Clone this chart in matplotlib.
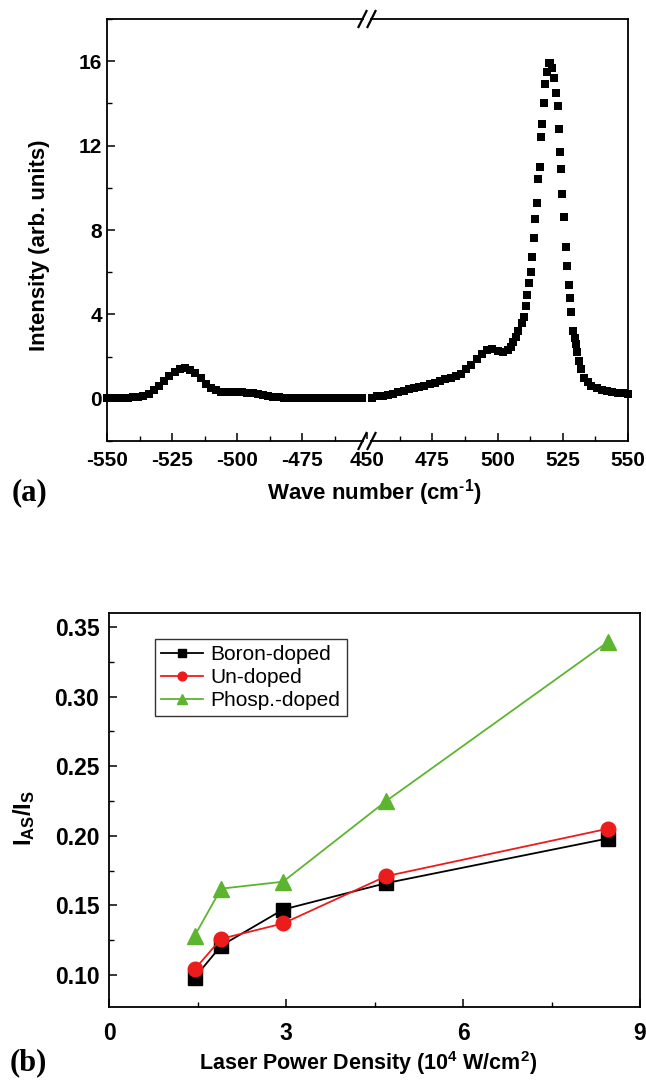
import matplotlib
matplotlib.use('Agg')
import matplotlib.pyplot as plt
from matplotlib.lines import Line2D
from matplotlib.patches import Rectangle
from matplotlib.ticker import FixedLocator, MultipleLocator, FormatStrFormatter

plt.rcParams['font.family'] = ['Liberation Sans', 'DejaVu Sans']
plt.rcParams['font.weight'] = 'bold'
plt.rcParams['axes.unicode_minus'] = False
plt.rcParams['mathtext.fontset'] = 'custom'
plt.rcParams['mathtext.rm'] = 'Liberation Sans:bold'
plt.rcParams['mathtext.bf'] = 'Liberation Sans:bold'
plt.rcParams['mathtext.it'] = 'Liberation Sans:italic'

# ---------------- data: panel (a) ----------------
anti_stokes_x = [-550, -548, -546, -544, -542, -540, -538, -536, -534, -532,
                 -530, -528, -526, -524, -522, -520, -518, -516, -514, -512,
                 -510, -508, -506, -504, -502, -500, -498, -496, -494, -492,
                 -490, -488, -486, -484, -482, -480, -478, -476, -474, -472,
                 -470, -468, -466, -464, -462, -460, -458, -456, -454, -452]
anti_stokes_y = [0.02, 0.02, 0.03, 0.03, 0.05, 0.07, 0.10, 0.15, 0.25, 0.40,
                 0.62, 0.85, 1.08, 1.28, 1.40, 1.45, 1.38, 1.22, 0.98, 0.72,
                 0.52, 0.40, 0.34, 0.31, 0.30, 0.30, 0.30, 0.29, 0.27, 0.24,
                 0.18, 0.13, 0.10, 0.08, 0.06, 0.05, 0.05, 0.04, 0.04, 0.04,
                 0.04, 0.04, 0.04, 0.04, 0.04, 0.04, 0.04, 0.04, 0.04, 0.04]

stokes_x = [452, 454, 456, 458, 460, 462, 464, 466, 468, 470,
            472, 474, 476, 478, 480, 482, 484, 486, 488, 490,
            492, 494, 496, 498, 500, 502, 504, 505, 506, 507,
            508, 509.5, 510.1, 510.8, 511.4, 512.1, 512.7, 513.4, 514.0, 514.4,
            515.3, 515.7, 516.3, 516.8, 517.2, 517.8, 518.3, 519.0, 519.6, 520.2,
            520.8, 521.7, 522.3, 523.0, 523.6, 524.0, 524.5, 524.9, 525.5, 526.4,
            526.8, 527.4, 527.8, 528.3, 529.1, 529.6, 530.0, 530.6, 531.3, 532.0,
            533.2, 534.5, 536, 538, 540, 542, 544, 546, 548, 550]
stokes_y = [0.05, 0.12, 0.15, 0.20, 0.25, 0.30, 0.38, 0.45, 0.50, 0.57,
            0.62, 0.70, 0.76, 0.84, 0.92, 1.00, 1.10, 1.18, 1.40, 1.62,
            1.88, 2.10, 2.30, 2.35, 2.25, 2.22, 2.30, 2.45, 2.70, 2.95,
            3.20, 3.60, 3.90, 4.40, 4.90, 5.50, 6.00, 6.70, 7.60, 8.50,
            9.30, 10.4, 11.0, 12.4, 13.0, 14.0, 14.9, 15.5, 15.9, 15.9,
            15.7, 15.2, 14.5, 13.9, 12.8, 11.7, 10.9, 9.7, 8.6, 7.2,
            6.3, 5.4, 4.8, 4.1, 3.2, 2.9, 2.6, 2.2, 1.8, 1.4,
            1.0, 0.8, 0.62, 0.52, 0.42, 0.35, 0.30, 0.28, 0.26, 0.25]

# ---------------- data: panel (b) ----------------
power_density = [1.45, 1.9, 2.95, 4.7, 8.45]
boron_doped = [0.098, 0.121, 0.147, 0.166, 0.198]
un_doped = [0.104, 0.126, 0.137, 0.171, 0.205]
phosp_doped = [0.128, 0.162, 0.167, 0.225, 0.339]
series_labels = ['Boron-doped', 'Un-doped', 'Phosp.-doped']

W, H = 646, 1083
fig = plt.figure(figsize=(W / 100, H / 100), dpi=100)


def fr(x0, y0, x1, y1):
    return [x0 / W, 1 - y1 / H, (x1 - x0) / W, (y1 - y0) / H]


BX = 367
axL = fig.add_axes(fr(107, 19, BX, 441))
axR = fig.add_axes(fr(BX, 19, 628, 441))

for ax in (axL, axR):
    for s in ax.spines.values():
        s.set_linewidth(1.3)
    ax.set_ylim(-2, 18)
    ax.tick_params(direction='in', which='major', length=6, width=1.1,
                   labelsize=15, top=False, right=False)
    ax.tick_params(direction='in', which='minor', length=3.5, width=1.0,
                   top=False, right=False)
    ax.tick_params(axis='x', pad=7)

axL.plot(anti_stokes_x, anti_stokes_y, 's', color='black', markersize=6.3,
         markeredgewidth=0, clip_on=False)
axR.plot(stokes_x, stokes_y, 's', color='black', markersize=6.3,
         markeredgewidth=0, clip_on=False)

axL.set_xlim(-550, -450)
axR.set_xlim(450, 550)
axL.xaxis.set_major_locator(FixedLocator([-550, -525, -500, -475]))
axL.xaxis.set_minor_locator(FixedLocator([-537.5, -512.5, -487.5, -462.5]))
axR.xaxis.set_major_locator(FixedLocator([450, 475, 500, 525, 550]))
axR.xaxis.set_minor_locator(FixedLocator([462.5, 487.5, 512.5, 537.5]))
axL.yaxis.set_major_locator(MultipleLocator(4))
axL.yaxis.set_minor_locator(MultipleLocator(2))
axL.spines['right'].set_visible(False)
axR.spines['left'].set_visible(False)
axR.tick_params(axis='y', which='both', left=False, labelleft=False)
axL.set_ylabel('Intensity (arb. units)', fontsize=16, fontweight='bold')
axL.yaxis.set_label_coords(-0.22, 0.464)

# axis break marks
for yb in (19, 441):
    fig.add_artist(Rectangle(((BX - 3) / W, 1 - (yb + 2) / H), 6 / W, 4 / H,
                             transform=fig.transFigure, facecolor='white',
                             edgecolor='none', zorder=10))
    for dx in (-4.5, 4.5):
        xc = BX + dx
        fig.add_artist(Line2D([(xc - 4) / W, (xc + 4) / W],
                              [1 - (yb + 8) / H, 1 - (yb - 8) / H],
                              transform=fig.transFigure, color='black',
                              linewidth=1.6, zorder=11))

fig.text(374 / W, 1 - 493 / H, r'Wave number (cm$^{\text{-}1}$)',
         ha='center', va='center', fontsize=16, fontweight='bold')
fig.text(12 / W, 1 - 493 / H, '(a)', ha='left', va='center', fontsize=22,
         fontweight='bold', family='Liberation Serif')

# ---------------- panel (b) ----------------
axB = fig.add_axes(fr(109, 613, 640, 1007))
for s in axB.spines.values():
    s.set_linewidth(1.3)
axB.plot(power_density, boron_doped, '-s', color='black', markersize=10,
         linewidth=1.3, label=series_labels[0])
axB.plot(power_density, un_doped, '-o', color='#ec1c1c', markersize=10.5,
         linewidth=1.3, label=series_labels[1])
axB.plot(power_density, phosp_doped, '-^', color='#5db52f', markersize=12,
         linewidth=1.3, label=series_labels[2])
axB.set_xlim(0, 9)
axB.set_ylim(0.077, 0.36)
axB.xaxis.set_major_locator(MultipleLocator(3))
axB.xaxis.set_minor_locator(MultipleLocator(1.5))
axB.yaxis.set_major_locator(MultipleLocator(0.05))
axB.yaxis.set_minor_locator(MultipleLocator(0.025))
axB.yaxis.set_major_formatter(FormatStrFormatter('%.2f'))
axB.tick_params(direction='in', which='major', length=6, width=1.1,
                labelsize=16.5, top=False, right=False)
axB.tick_params(direction='in', which='minor', length=3.5, width=1.0,
                top=False, right=False)
axB.tick_params(axis='x', pad=11)
axB.tick_params(axis='y', pad=7)
axB.set_ylabel(r'$\mathbf{I_{AS}/I_{S}}$', fontsize=17)
axB.yaxis.set_label_coords(-0.136, 0.48)
leg = axB.legend(loc='upper left', bbox_to_anchor=(0.087, 0.935),
                 frameon=True, fancybox=False, edgecolor='black',
                 prop={'family': 'Liberation Sans', 'weight': 'normal', 'size': 15},
                 markerscale=0.6, handlelength=2.0, labelspacing=0.2,
                 borderpad=0.3, handletextpad=0.35, borderaxespad=0)
leg.get_frame().set_linewidth(1.0)

fig.text(368 / W, 1 - 1063 / H, r'Laser Power Density (10$^{4}$ W/cm$^{2}$)',
         ha='center', va='center', fontsize=15.5, fontweight='bold')
fig.text(10 / W, 1 - 1063 / H, '(b)', ha='left', va='center', fontsize=22,
         fontweight='bold', family='Liberation Serif')

fig.savefig('out.png', dpi=100)
